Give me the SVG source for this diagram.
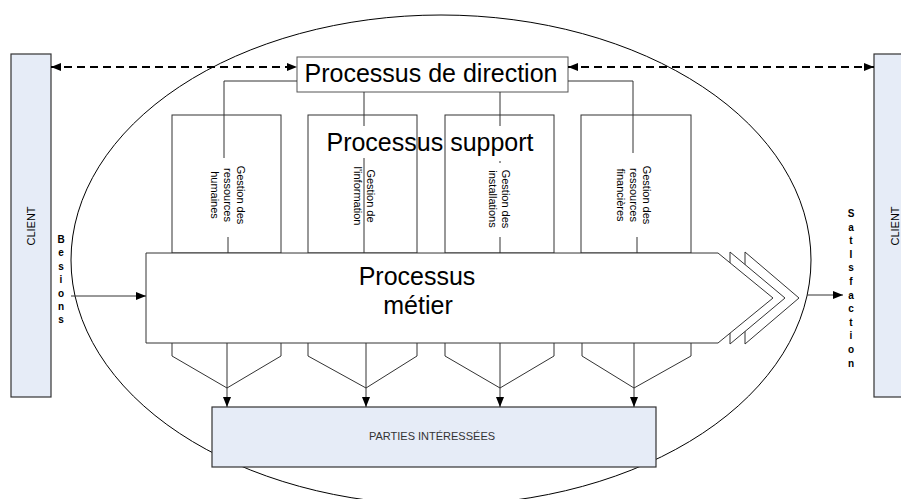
<svg xmlns="http://www.w3.org/2000/svg" width="901" height="499" viewBox="0 0 901 499">
<style>
text{font-family:"Liberation Sans",Arial,sans-serif;fill:#000}
.box{fill:#fff;stroke:#333;stroke-width:1}
.bar{fill:#E6ECF7;stroke:#333;stroke-width:1.2}
.ln{fill:none;stroke:#333;stroke-width:1}
.dash{fill:none;stroke:#000;stroke-width:2;stroke-dasharray:8 5}
.big{font-size:25px}
.rot{font-size:11px}
.let{font-size:10px;font-weight:bold}
</style>
<defs>
<marker id="ah" viewBox="0 0 10 8" refX="10" refY="4" markerWidth="10" markerHeight="8" markerUnits="userSpaceOnUse" orient="auto-start-reverse">
<path d="M0,0 L10,4 L0,8 Z" fill="#000"/>
</marker>
</defs>
<ellipse cx="441" cy="260" rx="370" ry="245" fill="none" stroke="#000" stroke-width="1"/>
<g id="client-left">
<rect class="bar" x="11" y="54" width="40" height="343"/>
<text class="rot" transform="translate(35,226) rotate(-90)" text-anchor="middle">CLIENT</text>
</g>
<g id="client-right">
<rect class="bar" x="874" y="54" width="40" height="343"/>
<text class="rot" transform="translate(899,226) rotate(-90)" text-anchor="middle">CLIENT</text>
</g>
<g id="support-boxes">
<rect class="box" x="172" y="115" width="109" height="138"/>
<rect class="box" x="308" y="115" width="109" height="138"/>
<rect class="box" x="445" y="115" width="109" height="138"/>
<rect class="box" x="581" y="115" width="110" height="138"/>
</g>
<g id="direction">
<rect x="297" y="57" width="271" height="35" fill="#fff" stroke="#555" stroke-width="1"/>
<text class="big" x="431" y="82" text-anchor="middle">Processus de direction</text>
</g>
<g id="support-label">
<text class="big" x="430" y="151" text-anchor="middle">Processus support</text>
</g>
<g id="grh">
<text class="rot" transform="translate(237,195) rotate(90)" text-anchor="middle"><tspan x="0" y="0">Gestion des</tspan><tspan x="0" dy="13">ressources</tspan><tspan x="0" dy="13">humaines</tspan></text>
</g>
<g id="ginfo">
<text class="rot" transform="translate(367,196) rotate(90)" text-anchor="middle"><tspan x="0" y="0">Gestion de</tspan><tspan x="0" dy="13">l'information</tspan></text>
</g>
<g id="ginst">
<text class="rot" transform="translate(502,199) rotate(90)" text-anchor="middle"><tspan x="0" y="0">Gestion des</tspan><tspan x="0" dy="13">installations</tspan></text>
</g>
<g id="gfin">
<text class="rot" transform="translate(643,195) rotate(90)" text-anchor="middle"><tspan x="0" y="0">Gestion des</tspan><tspan x="0" dy="13">ressources</tspan><tspan x="0" dy="13">financières</tspan></text>
</g>
<g id="metier">
<polygon points="745,252 799,298 745,344" fill="#fff" stroke="#333" stroke-width="1"/>
<polygon points="730,252 785,298 730,344" fill="#fff" stroke="#333" stroke-width="1"/>
<polygon points="146,253 718,253 773,298 718,343 146,343" fill="#fff" stroke="#333" stroke-width="1"/>
<text class="big" x="417" y="285" text-anchor="middle">Processus</text>
<text class="big" x="418" y="314" text-anchor="middle">métier</text>
</g>
<g id="parties">
<rect class="bar" x="212" y="407" width="444" height="60"/>
<text x="432" y="440" font-size="11" text-anchor="middle" fill="#333" style="fill:#333">PARTIES INTÉRESSÉES</text>
</g>
<g id="besoins">
<text class="let" text-anchor="middle"><tspan x="61" y="243">B</tspan><tspan x="61" dy="13.4">e</tspan><tspan x="61" dy="13.4">s</tspan><tspan x="61" dy="13.4">i</tspan><tspan x="61" dy="13.4">o</tspan><tspan x="61" dy="13.4">n</tspan><tspan x="61" dy="13.4">s</tspan></text>
</g>
<g id="satisfaction">
<text class="let" text-anchor="middle"><tspan x="851" y="217">S</tspan><tspan x="851" dy="13.6">a</tspan><tspan x="851" dy="13.6">t</tspan><tspan x="851" dy="13.6">I</tspan><tspan x="851" dy="13.6">s</tspan><tspan x="851" dy="13.6">f</tspan><tspan x="851" dy="13.6">a</tspan><tspan x="851" dy="13.6">c</tspan><tspan x="851" dy="13.6">t</tspan><tspan x="851" dy="13.6">i</tspan><tspan x="851" dy="13.6">o</tspan><tspan x="851" dy="13.6">n</tspan></text>
</g>
<g id="connectors">
<line class="dash" x1="51" y1="67" x2="297" y2="67" marker-start="url(#ah)" marker-end="url(#ah)"/>
<line class="dash" x1="568" y1="67" x2="874" y2="67" marker-start="url(#ah)" marker-end="url(#ah)"/>
<polyline class="ln" points="297,81 224,81 224,158"/>
<line class="ln" x1="228" y1="237" x2="228" y2="253"/>
<line class="ln" x1="364" y1="92" x2="364" y2="126"/>
<line class="ln" x1="364" y1="158" x2="364" y2="253"/>
<line class="ln" x1="500" y1="92" x2="500" y2="126"/>
<line class="ln" x1="500" y1="161" x2="500" y2="163"/>
<line class="ln" x1="500" y1="237" x2="500" y2="253"/>
<polyline class="ln" points="568,81 633,81 633,153"/>
<line class="ln" x1="637" y1="237" x2="637" y2="253"/>
<line class="ln" x1="71" y1="296" x2="146" y2="296" marker-end="url(#ah)"/>
<line class="ln" x1="807" y1="295" x2="843" y2="295" marker-end="url(#ah)"/>
<polyline class="ln" points="172,343 172,356 227,388 281,356 281,343"/>
<polyline class="ln" points="308,343 308,356 366,388 417,356 417,343"/>
<polyline class="ln" points="445,343 445,356 500,388 554,356 554,343"/>
<polyline class="ln" points="582,343 582,356 634,388 691,356 691,343"/>
<line class="ln" x1="227" y1="343" x2="227" y2="407" marker-end="url(#ah)"/>
<line class="ln" x1="366" y1="343" x2="366" y2="407" marker-end="url(#ah)"/>
<line class="ln" x1="500" y1="343" x2="500" y2="407" marker-end="url(#ah)"/>
<line class="ln" x1="634" y1="343" x2="634" y2="407" marker-end="url(#ah)"/>
</g>
</svg>
